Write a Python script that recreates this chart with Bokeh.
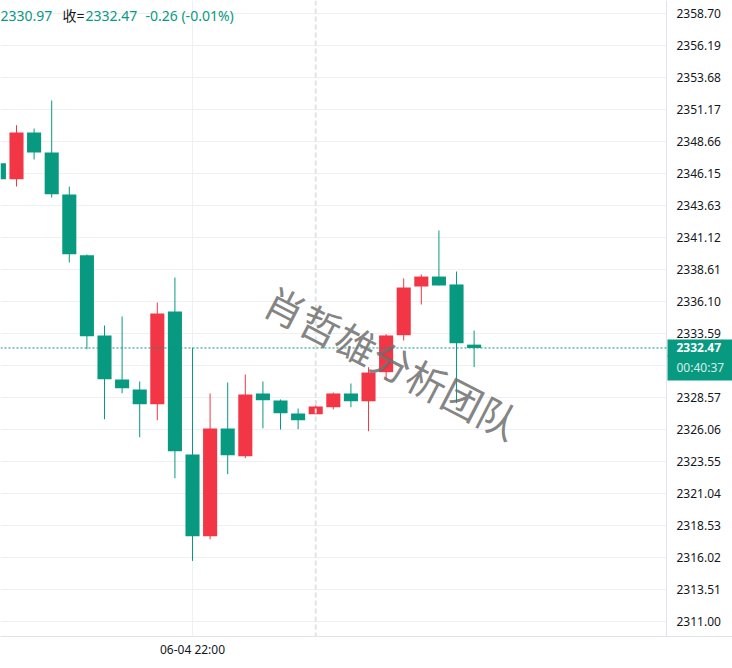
from bokeh.plotting import figure
from bokeh.models import (Range1d, FixedTicker, Span, Label, ColumnDataSource,
                          PrintfTickFormatter, BoxAnnotation)
from bokeh.embed import file_html
from bokeh.resources import INLINE

# ---- data ----
idx = list(range(28))
opens = [2346.96, 2345.70, 2349.37, 2347.80, 2344.50, 2339.74, 2333.45, 2329.99, 2329.21, 2328.06,
         2335.33, 2324.11, 2317.70, 2326.15, 2323.98, 2328.90, 2328.35, 2327.33, 2327.27, 2327.82,
         2328.90, 2328.29, 2330.57, 2333.47, 2337.29, 2338.07, 2337.45, 2332.73]
highs = [2347.17, 2349.94, 2349.68, 2351.88, 2345.13, 2339.80, 2334.23, 2334.94, 2329.84, 2336.03,
         2337.99, 2332.48, 2328.90, 2329.76, 2330.39, 2329.84, 2328.43, 2327.72, 2328.35, 2328.97,
         2329.68, 2330.96, 2333.55, 2337.92, 2338.23, 2341.68, 2338.46, 2333.84]
lows = [2345.45, 2345.13, 2347.25, 2344.27, 2339.17, 2332.37, 2326.88, 2328.92, 2325.47, 2326.80,
        2322.25, 2315.77, 2317.47, 2322.57, 2323.82, 2326.17, 2326.07, 2326.10, 2327.27, 2327.66,
        2327.82, 2325.94, 2330.02, 2333.05, 2335.88, 2337.37, 2328.14, 2330.97]
closes = [2345.70, 2349.37, 2347.80, 2344.53, 2339.82, 2333.39, 2330.02, 2329.31, 2328.06, 2335.17,
          2324.37, 2317.70, 2326.15, 2324.06, 2328.82, 2328.37, 2327.35, 2326.80, 2327.88, 2328.90,
          2328.29, 2330.54, 2333.45, 2337.21, 2338.07, 2337.37, 2332.84, 2332.47]

y_ticks = [2311.00, 2313.51, 2316.02, 2318.53, 2321.04, 2323.55, 2326.06, 2328.57, 2331.08, 2333.59,
           2336.10, 2338.61, 2341.12, 2343.63, 2346.15, 2348.66, 2351.17, 2353.68, 2356.19, 2358.70]
hidden_tick = 2331.08
time_tick_index = 11
time_tick_label = "06-04 22:00"
session_break_index = 18

last_price = 2332.47
countdown = "00:40:37"
legend_low = "2330.97"
legend_close_name = "收="
legend_close = "2332.47"
legend_change = "-0.26 (-0.01%)"
watermark = "肖哲雄分析团队"

UP = "#F23645"
DOWN = "#089981"
FONT = "Noto Sans"
TEXT = "#131722"

X0, X1 = 0.0909, 41.68      # visible candle-index range (frame spans the full width)
AXIS_AT = 37.93             # price scale sits here, labels to its right

colors = [UP if c >= o else DOWN for o, c in zip(opens, closes)]
src = ColumnDataSource(dict(
    x=idx, open=opens, close=closes, high=highs, low=lows,
    top=[max(o, c) for o, c in zip(opens, closes)],
    bottom=[min(o, c) for o, c in zip(opens, closes)],
    color=colors,
))

p = figure(width=732, height=668, output_backend="svg", toolbar_location=None,
           x_range=Range1d(X0, X1), y_range=Range1d(2309.84, 2359.72),
           y_axis_location="right", min_border_left=0, min_border_top=0,
           min_border_right=0, min_border_bottom=32)
p.background_fill_color = "white"
p.border_fill_color = "white"
p.outline_line_color = None

p.segment(x0="x", y0="low", x1="x", y1="high", color="color", line_width=1, source=src)
p.vbar(x="x", width=0.8, top="top", bottom="bottom", fill_color="color", line_color=None, source=src)

# blank price-scale area (hides grid lines behind the labels)
p.add_layout(BoxAnnotation(left=AXIS_AT, fill_color="white", fill_alpha=1.0,
                           line_color=None, level="glyph"))

# axes
ya = p.yaxis[0]
ya.fixed_location = AXIS_AT
ya.ticker = FixedTicker(ticks=y_ticks, minor_ticks=[])
ya.formatter = PrintfTickFormatter(format="%.2f")
ya.major_label_overrides = {hidden_tick: ""}
ya.major_tick_line_color = None
ya.minor_tick_line_color = None
ya.major_tick_out = 0
ya.major_tick_in = 0
ya.axis_line_color = "#e0e3eb"
ya.major_label_standoff = 10
ya.major_label_text_font = FONT
ya.major_label_text_font_size = "12px"
ya.major_label_text_color = TEXT

xa = p.xaxis[0]
xa.ticker = FixedTicker(ticks=[time_tick_index], minor_ticks=[])
xa.major_label_overrides = {time_tick_index: time_tick_label}
xa.major_tick_line_color = None
xa.minor_tick_line_color = None
xa.major_tick_out = 0
xa.major_tick_in = 0
xa.axis_line_color = "#e0e3eb"
xa.major_label_standoff = 4
xa.major_label_text_font = FONT
xa.major_label_text_font_size = "12px"
xa.major_label_text_color = TEXT

p.ygrid.ticker = FixedTicker(ticks=y_ticks, minor_ticks=[])
p.ygrid.grid_line_color = "#eef0f3"
p.xgrid.ticker = FixedTicker(ticks=[time_tick_index], minor_ticks=[])
p.xgrid.grid_line_color = "#eef0f3"

p.add_layout(Span(location=session_break_index, dimension="height", line_color="#e0e3eb",
                  line_dash="5 3", line_width=2))
p.add_layout(Span(location=last_price, dimension="width", line_color=DOWN,
                  line_dash="2 2", line_width=1))

# price tag on the scale
p.add_layout(Label(x=667, y=last_price, x_units="screen", y_units="data", text=f"{last_price:.2f}",
                   text_align="left", text_baseline="middle", text_color="white",
                   text_font=FONT, text_font_size="12px", text_font_style="bold",
                   background_fill_color=DOWN,
                   padding=dict(left=9, right=12, top=4, bottom=4)))
p.add_layout(Label(x=667, y=last_price, x_units="screen", y_units="data", y_offset=-20, text=countdown,
                   text_align="left", text_baseline="middle", text_color="#d6efe9",
                   text_font=FONT, text_font_size="12px",
                   background_fill_color=DOWN,
                   padding=dict(left=9, right=12, top=4, bottom=4)))

# legend line at top left
for txt, xx, col in [(legend_low, 0, DOWN), (legend_close_name, 62, TEXT),
                     (legend_close, 85, DOWN), (legend_change, 145, DOWN)]:
    p.add_layout(Label(x=xx, y=621, x_units="screen", y_units="screen", text=txt,
                       text_align="left", text_baseline="middle", text_color=col,
                       text_font=FONT + ", Noto Sans CJK SC", text_font_size="14px"))

# watermark
p.add_layout(Label(x=22.35, y=2331.4, text=watermark, angle=-0.478,
                   text_align="center", text_baseline="middle", text_color="#6f6f6f",
                   text_alpha=0.85, text_font="Noto Sans CJK SC", text_font_size="40px"))

open("out.html", "w").write(file_html(p, INLINE))
